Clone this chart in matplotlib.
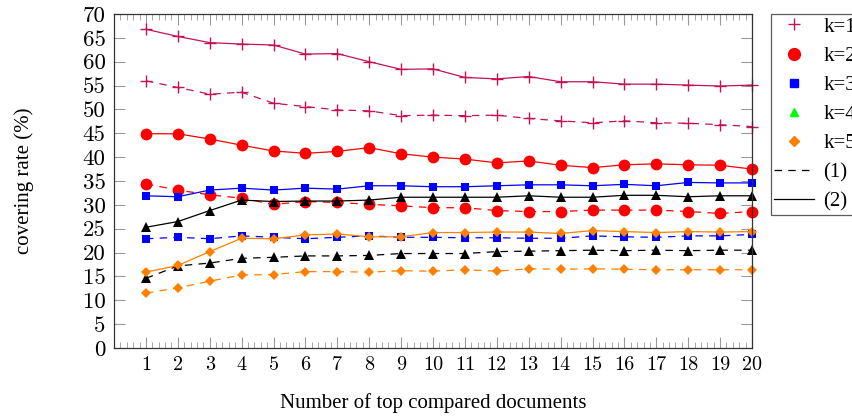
import matplotlib
matplotlib.use('Agg')
import matplotlib.pyplot as plt
from matplotlib.lines import Line2D
from matplotlib.ticker import MultipleLocator

# number of top compared documents
n_docs = list(range(1, 21))

# (1) = dashed, (2) = solid
k1_1 = [56.0, 54.6, 53.2, 53.6, 51.3, 50.6, 49.9, 49.7, 48.7, 48.8,
        48.7, 48.8, 48.1, 47.6, 47.2, 47.6, 47.2, 47.1, 46.8, 46.4]
k1_2 = [66.8, 65.3, 64.0, 63.7, 63.5, 61.6, 61.7, 60.0, 58.4, 58.5,
        56.7, 56.4, 56.9, 55.8, 55.8, 55.3, 55.3, 55.1, 54.9, 55.1]
k2_1 = [34.4, 33.1, 32.1, 31.4, 30.1, 30.7, 30.5, 30.1, 29.8, 29.4,
        29.4, 28.8, 28.6, 28.6, 28.9, 28.9, 28.9, 28.6, 28.2, 28.6]
k2_2 = [44.9, 44.9, 43.8, 42.5, 41.3, 40.8, 41.2, 42.0, 40.7, 40.0,
        39.6, 38.8, 39.2, 38.3, 37.8, 38.4, 38.6, 38.4, 38.3, 37.5]
k3_1 = [22.9, 23.2, 22.9, 23.5, 23.2, 22.9, 23.2, 23.5, 23.2, 23.2,
        23.1, 23.1, 23.0, 23.0, 23.5, 23.3, 23.2, 23.5, 23.5, 23.8]
k3_2 = [31.9, 31.7, 33.1, 33.5, 33.1, 33.5, 33.3, 34.0, 34.0, 33.8,
        33.8, 34.0, 34.2, 34.2, 34.0, 34.3, 34.0, 34.7, 34.6, 34.6]
k4_1 = [14.6, 17.2, 17.8, 18.8, 19.0, 19.3, 19.3, 19.4, 19.8, 19.8,
        19.8, 20.2, 20.3, 20.4, 20.5, 20.4, 20.5, 20.4, 20.5, 20.5]
k4_2 = [25.3, 26.5, 28.8, 31.0, 30.7, 30.8, 30.8, 31.0, 31.6, 31.6,
        31.6, 31.6, 31.9, 31.6, 31.6, 32.0, 32.0, 31.7, 31.9, 31.9]
k5_1 = [11.5, 12.6, 14.0, 15.3, 15.4, 16.0, 16.0, 15.9, 16.2, 16.1,
        16.4, 16.1, 16.6, 16.5, 16.6, 16.5, 16.4, 16.4, 16.4, 16.4]
k5_2 = [15.9, 17.3, 20.2, 23.0, 22.9, 23.7, 23.9, 23.3, 23.3, 24.2,
        24.2, 24.3, 24.3, 24.0, 24.6, 24.4, 24.2, 24.4, 24.3, 24.4]

legend_labels = ['k=1', 'k=2', 'k=3', 'k=4', 'k=5', '(1)', '(2)']

crimson = '#c2125a'
orange = '#ff8000'

fig = plt.figure(figsize=(8.52, 4.19), dpi=100)
ax = fig.add_axes([114/852, 1 - 348/419, 638/852, 334/419])

series = [
    (k1_1, k1_2, crimson, '+', 8, 1.0),
    (k2_1, k2_2, 'red', 'o', 8.5, 0),
    (k3_1, k3_2, 'blue', 's', 5.5, 0),
    (k4_1, k4_2, 'black', '^', 6.5, 0),
    (k5_1, k5_2, orange, 'D', 5, 0),
]
for dashed, solid, col, mk, ms, mew in series:
    ax.plot(n_docs, dashed, color=col, ls=(0, (6, 5)), lw=0.9,
            marker=mk, ms=ms, mew=mew, mec=col, mfc=col, clip_on=False)
    ax.plot(n_docs, solid, color=col, ls='-', lw=0.9,
            marker=mk, ms=ms, mew=mew, mec=col, mfc=col, clip_on=False)

ax.set_xlim(0, 20)
ax.set_ylim(0, 70)
ax.set_xticks(n_docs)
ax.xaxis.set_minor_locator(MultipleLocator(0.2))
ax.yaxis.set_major_locator(MultipleLocator(5))

ax.tick_params(axis='both', which='both', direction='in', top=True, right=True,
               color='#999999', labelfontfamily='cmr10')
ax.tick_params(axis='both', which='major', length=8, width=0.8)
ax.tick_params(axis='x', which='minor', length=4.5, width=0.6)
ax.tick_params(axis='x', which='major', labelsize=14.5, pad=6)
ax.tick_params(axis='y', which='major', labelsize=16.5, pad=6)
for s in ax.spines.values():
    s.set_color('#333333')
    s.set_linewidth(0.9)

ax.set_xlabel('Number of top compared documents', fontsize=15, family='Liberation Serif')
ax.xaxis.set_label_coords(0.5, -0.135)
ax.set_ylabel('covering rate (%)', fontsize=15, family='Liberation Serif')
ax.yaxis.set_label_coords(-0.126, 0.5)

handles = [
    Line2D([], [], ls='none', marker='+', color=crimson, ms=8, mew=1.0),
    Line2D([], [], ls='none', marker='o', color='red', ms=8.5),
    Line2D([], [], ls='none', marker='s', color='blue', ms=6),
    Line2D([], [], ls='none', marker='^', color='#00ff00', ms=6),
    Line2D([], [], ls='none', marker='D', color=orange, ms=5),
    Line2D([], [], ls=(0, (6, 5)), color='black', lw=0.9),
    Line2D([], [], ls='-', color='black', lw=0.9),
]
leg = fig.legend(handles, legend_labels, loc='upper left',
                 bbox_to_anchor=(771/852, 1 - 14/419), frameon=True, fancybox=False,
                 prop={'family': 'Liberation Serif', 'size': 15},
                 handlelength=1.9, handletextpad=0.45, labelspacing=0.46,
                 borderpad=0.15, borderaxespad=0)
leg.get_frame().set_edgecolor('#333333')
leg.get_frame().set_linewidth(0.9)

fig.savefig('out.png', dpi=100)
